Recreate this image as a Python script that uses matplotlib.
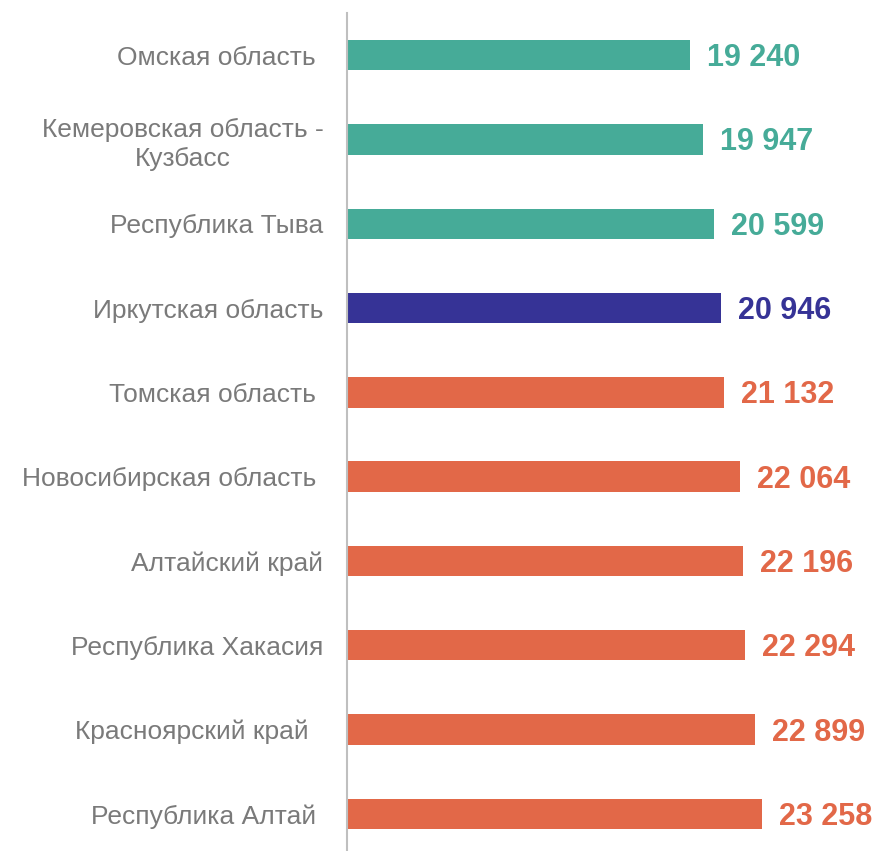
import matplotlib
matplotlib.use("Agg")
import matplotlib.pyplot as plt

regions = ["Омская область ", "Кемеровская область -\nКузбасс", "Республика Тыва",
           "Иркутская область", "Томская область ", "Новосибирская область ",
           "Алтайский край", "Республика Хакасия", "Красноярский край  ",
           "Республика Алтай "]
values = [19240, 19947, 20599, 20946, 21132, 22064, 22196, 22294, 22899, 23258]
value_labels = ["19 240", "19 947", "20 599", "20 946", "21 132", "22 064",
                "22 196", "22 294", "22 899", "23 258"]
teal, navy, orange = "#46AB98", "#363396", "#E26848"
colors = [teal, teal, teal, navy, orange, orange, orange, orange, orange, orange]

plt.rcParams['font.family'] = ['Liberation Sans', 'DejaVu Sans']
fig = plt.figure(figsize=(8.82, 8.51), dpi=100)
ax = fig.add_axes([347/882, -5/851, 1 - 347/882, 843/851])
y = list(range(len(regions)))
ax.barh(y, values, height=0.36, color=colors)
ax.set_xlim(0, 30000)
ax.set_ylim(len(regions) - 0.5, -0.5)
ax.set_yticks(y)
ax.set_yticklabels(regions, fontsize=19, color="#7A7A7A", linespacing=1.25,
                   multialignment="center")
ax.tick_params(axis='y', length=0, pad=17)
ax.set_xticks([])
for s in ["top", "right", "bottom"]:
    ax.spines[s].set_visible(False)
ax.spines["left"].set_color("#BFBFBF")
ax.spines["left"].set_linewidth(1.5)
for yi, v, lab, c in zip(y, values, value_labels, colors):
    ax.annotate(lab, (v, yi), xytext=(17, -3), textcoords="offset pixels",
                va="center", ha="left", fontsize=22, fontweight="bold", color=c)
fig.savefig("out.png", dpi=100)
